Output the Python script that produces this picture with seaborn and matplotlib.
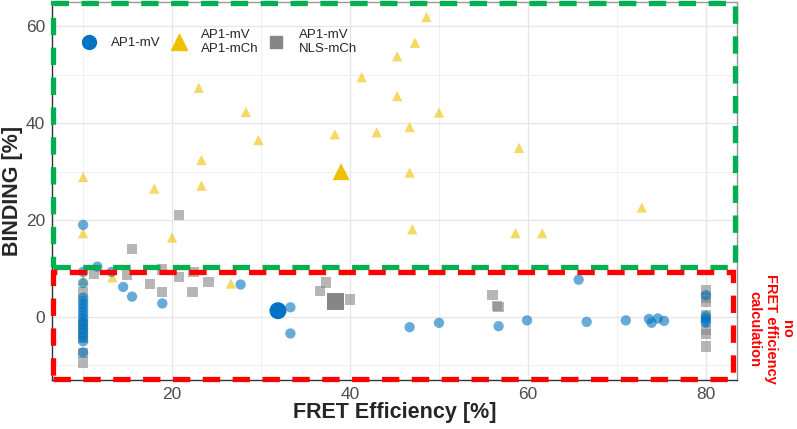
import numpy as np
import pandas as pd
import matplotlib
matplotlib.use('Agg')
import matplotlib.pyplot as plt
import seaborn as sns
from matplotlib.patches import Rectangle
from matplotlib.lines import Line2D

# Data
groups = ['AP1-mV', 'AP1-mV\nAP1-mCh', 'AP1-mV\nNLS-mCh']

# AP1-mV (blue circles)
fret_mv = [10, 10, 10, 10, 10, 10, 10, 10, 10, 10, 10, 10, 10, 10, 10, 10, 10,
           11.6, 13.2, 14.5, 15.5, 18.9, 27.7, 33.3, 33.3, 46.7, 50.0, 56.7,
           59.9, 65.7, 66.6, 71.0, 73.6, 73.9, 74.6, 75.3, 80, 80, 80, 80, 80]
bind_mv = [19.0, 9.3, 7.0, 4.0, 3.3, 2.6, 1.9, 1.2, 0.5, -0.2, -0.9, -1.6, -2.5,
           -3.3, -4.2, -5.0, -7.3,
           10.4, 9.3, 6.2, 4.2, 2.8, 6.7, 2.0, -3.4, -2.1, -1.2, -1.9,
           -0.7, 7.7, -1.0, -0.7, -0.4, -1.2, -0.3, -0.8, 4.5, 0.2, -0.3, -0.8, -1.2]

# AP1-mV + AP1-mCh (yellow triangles)
fret_mch = [10, 10, 10, 13.3, 18.0, 20.0, 23.0, 23.3, 23.3, 26.6, 28.3, 29.7,
            38.3, 41.3, 43.0, 45.3, 45.3, 46.7, 46.7, 47.0, 47.3, 48.6, 50.0,
            58.6, 59.0, 61.6, 72.8, 80]
bind_mch = [28.9, 17.3, 7.6, 8.2, 26.5, 16.4, 47.3, 32.4, 27.1, 6.9, 42.3, 36.5,
            37.7, 49.5, 38.1, 53.8, 45.6, 39.2, 29.8, 18.1, 56.6, 61.9, 42.2,
            17.3, 34.9, 17.3, 22.6, 0.3]

# AP1-mV + NLS-mCh (grey squares)
fret_nls = [10, 10, 10, 10, 10, 10, 10, 11.2, 14.9, 15.5, 17.5, 18.9, 18.9,
            20.8, 20.8, 22.4, 24.1, 22.3, 36.6, 37.3, 40.0, 56.0, 56.5, 56.7,
            80, 80, 80, 80, 80, 80, 80]
bind_nls = [5.2, -1.5, -2.3, -3.3, -4.3, -7.4, -9.4, 8.9, 8.7, 14.0, 6.8, 5.2, 9.8,
            8.3, 21.0, 9.3, 7.2, 5.1, 5.4, 7.1, 3.6, 4.5, 2.3, 2.0,
            5.6, 4.0, 3.2, 0.4, -2.7, -3.5, -6.1]

# group means (large markers)
mean_fret = [31.9, 39.0, 38.4]
mean_bind = [1.3, 30.0, 3.2]

colors = {groups[0]: '#0073C2', groups[1]: '#EFC000', groups[2]: '#868686'}
markers = {groups[0]: 'o', groups[1]: '^', groups[2]: 's'}

df = pd.concat([
    pd.DataFrame({'fret': fret_nls, 'binding': bind_nls, 'group': groups[2]}),
    pd.DataFrame({'fret': fret_mch, 'binding': bind_mch, 'group': groups[1]}),
    pd.DataFrame({'fret': fret_mv, 'binding': bind_mv, 'group': groups[0]}),
], ignore_index=True)
means = pd.DataFrame({'fret': mean_fret, 'binding': mean_bind, 'group': groups})

sns.set_style('white')
plt.rcParams['font.family'] = ['Liberation Sans', 'DejaVu Sans']
plt.rcParams['lines.scale_dashes'] = False

fig = plt.figure(figsize=(7.97, 4.29), dpi=100)
ax = fig.add_axes([52 / 797, 1 - 380 / 429, 685 / 797, 378 / 429])

sns.scatterplot(data=df, x='fret', y='binding', hue='group', style='group',
                palette=colors, markers=markers, s=55, alpha=0.6,
                linewidth=0, legend=False, ax=ax, zorder=3)
sns.scatterplot(data=means, x='fret', y='binding', hue='group', style='group',
                palette=colors, markers=markers, s=150, alpha=1,
                linewidth=0, legend=False, ax=ax, zorder=4)

ax.set_xlim(6.5, 83.5)
ax.set_ylim(-13, 65)
ax.set_xticks([20, 40, 60, 80])
ax.set_xticks([10, 30, 50, 70], minor=True)
ax.set_yticks([0, 20, 40, 60])
ax.set_yticks([-10, 10, 30, 50], minor=True)
ax.grid(which='major', color='#E6E6E6', lw=0.9, zorder=0)
ax.grid(which='minor', color='#F0F0F0', lw=0.7, zorder=0)
ax.set_axisbelow(True)
ax.tick_params(which='major', length=3, width=0.8, color='#333333',
               labelsize=12.5, labelcolor='#4D4D4D', pad=2)
ax.tick_params(which='minor', length=0)
for side in ['top', 'right']:
    ax.spines[side].set_color('#999999')
    ax.spines[side].set_linewidth(1)
for side in ['left', 'bottom']:
    ax.spines[side].set_color('#333333')
    ax.spines[side].set_linewidth(1)

ax.set_xlabel('FRET Efficiency [%]', fontsize=15.5, fontweight='bold', labelpad=0)
ax.set_ylabel('BINDING [%]', fontsize=15.5, fontweight='bold', labelpad=2)

# highlight boxes
ax.add_patch(Rectangle((6.65, 10.3), 83.25 - 6.65, 64.7 - 10.3, fill=False,
                       edgecolor='#00B050', lw=3.8, linestyle=(0, (12.5, 9)),
                       zorder=6, clip_on=False))
ax.add_patch(Rectangle((6.65, -12.8), 83.0 - 6.65, 9.3 + 12.8, fill=False,
                       edgecolor='#FF0000', lw=3.8, linestyle=(0, (12.5, 9)),
                       zorder=6, clip_on=False))

ax.text(1.049, 0.135, 'no\nFRET efficiency\ncalculation', transform=ax.transAxes,
        rotation=270, color='#FF0000', fontsize=10.5, fontweight='bold',
        ha='center', va='center', multialignment='center')

handles = [Line2D([], [], ls='none', marker=markers[g], color=colors[g],
                  markersize={'o': 10, '^': 12, 's': 9}[markers[g]]) for g in groups]
ax.legend(handles, groups, ncol=3, loc='upper left', bbox_to_anchor=(0.044, 0.929),
          frameon=False, fontsize=9.5, handlelength=1.0, handletextpad=1.2,
          columnspacing=0.85, borderpad=0, borderaxespad=0)

fig.savefig('out.png', dpi=100)
